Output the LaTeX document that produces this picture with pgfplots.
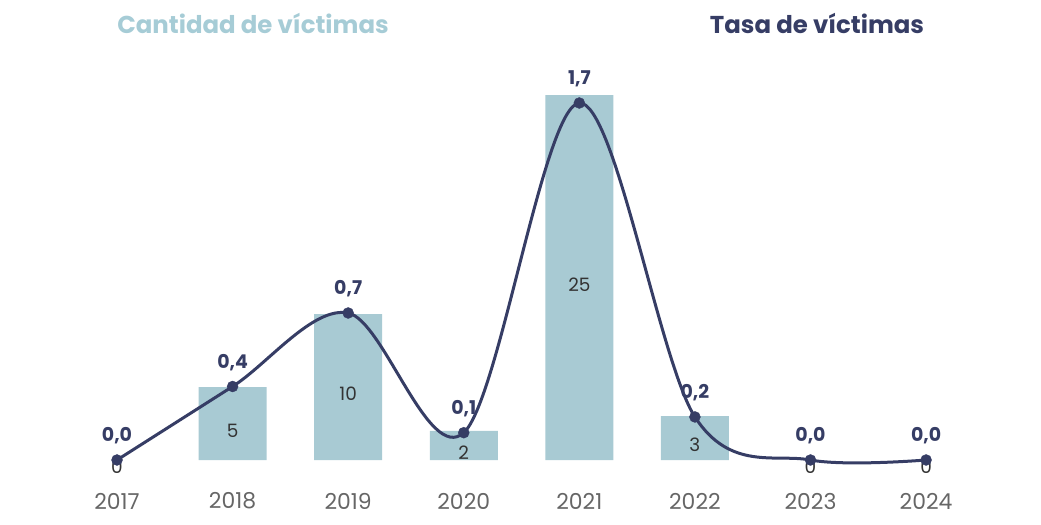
\documentclass[border=0pt]{standalone}
\usepackage{pgfplots}
\pgfplotsset{compat=1.18}
\usepackage{fontspec}
\setmainfont{Poppins}
\definecolor{barc}{HTML}{A8CAD3}
\definecolor{navy}{HTML}{363D65}
\definecolor{ttl}{HTML}{A6CCD6}
\definecolor{tick}{HTML}{666666}
\definecolor{lab}{HTML}{333333}
\begin{document}
\begin{tikzpicture}[x=1bp,y=1bp]
\useasboundingbox (0,0) rectangle (1041,525);
\pgfplotsset{base/.style={at={(0,0)}, anchor=south west, scale only axis,
  width=1041bp, height=525bp, xmin=-1.0124, xmax=7.995, clip=false,
  axis line style={draw=none}, tick style={draw=none}, major tick length=0pt,
  ytick=\empty}}
\begin{axis}[base, ymin=-4.452, ymax=31.51,
  xtick={0,...,7}, xticklabels={2017,2018,2019,2020,2021,2022,2023,2024},
  xticklabel style={anchor=center, yshift=24bp, text=tick, font=\fontsize{22}{26}\selectfont}]
\addplot[ybar, bar width=68bp, fill=barc, draw=none] coordinates
  {(1,5) (2,10) (3,2) (4,25) (5,3)};
\addplot[draw=none, mark=none, nodes near coords, point meta=explicit symbolic,
  nodes near coords style={anchor=center, yshift=-7bp, text=lab, font=\fontsize{18.5}{22}\selectfont}]
  table[meta=l] {
x y l
0 0 0
1 2.5 5
2 5 10
3 1 2
4 12.5 25
5 1.5 3
6 0 0
7 0 0
};
\end{axis}
\begin{axis}[base, ymin=-0.3095, ymax=2.1905, xtick=\empty]
\addplot[navy, line width=3bp, smooth, tension=0.55, mark=none]
  table {
x y
0 0
1 0.35
2 0.70
3 0.13
4 1.70
5 0.205
6 0
7 0
};
\addplot[only marks, mark=*, mark size=5.5bp, mark options={fill=navy, draw=navy, line width=0.4bp},
  nodes near coords, point meta=explicit symbolic,
  nodes near coords style={anchor=center, yshift=24bp, text=navy, font=\bfseries\fontsize{19}{22}\selectfont}]
  table[meta=l] {
x y l
0 0 {0,0}
1 0.35 {0,4}
2 0.70 {0,7}
3 0.13 {0,1}
4 1.70 {1,7}
5 0.205 {0,2}
6 0 {0,0}
7 0 {0,0}
};
\end{axis}
\node[font=\bfseries\fontsize{24.5}{28}\selectfont, text=ttl] at (253,502) {Cantidad de víctimas};
\node[font=\bfseries\fontsize{24.5}{28}\selectfont, text=navy] at (817,502) {Tasa de víctimas};
\end{tikzpicture}
\end{document}
